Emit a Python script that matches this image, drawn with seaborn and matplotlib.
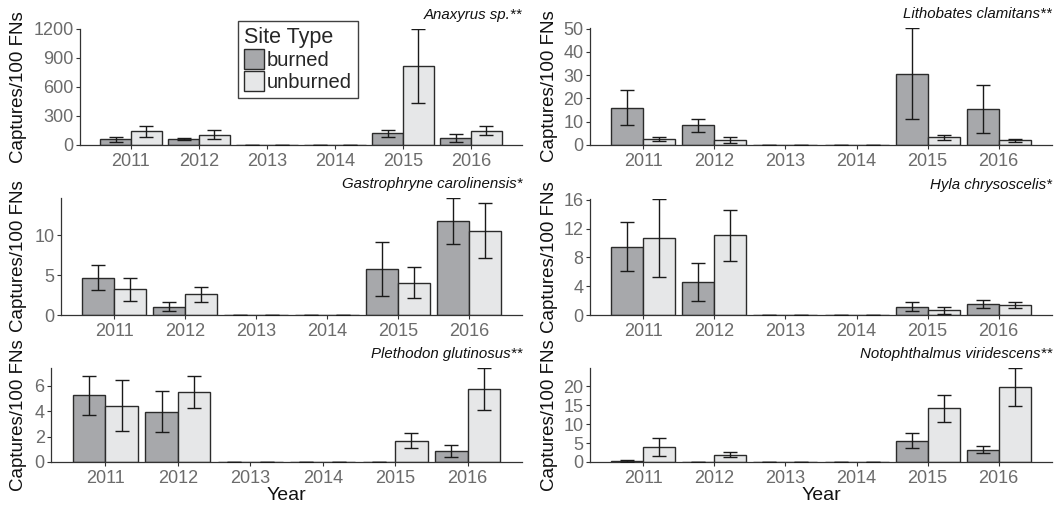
import numpy as np
import pandas as pd
import matplotlib
matplotlib.use("Agg")
import matplotlib.pyplot as plt
from matplotlib.patches import Patch
import seaborn as sns

# ---------------- data ----------------
years = ["2011", "2012", "2013", "2014", "2015", "2016"]
site_types = ["burned", "unburned"]

species = [
    "Anaxyrus sp.**",
    "Lithobates clamitans**",
    "Gastrophryne carolinensis*",
    "Hyla chrysoscelis*",
    "Plethodon glutinosus**",
    "Notophthalmus viridescens**",
]

anax_burned = [60, 62, 0, 0, 120, 75]
anax_burned_se = [24, 14, 0, 0, 38, 40]
anax_unburned = [140, 107, 0, 0, 815, 148]
anax_unburned_se = [55, 45, 0, 0, 385, 49]

lith_burned = [16.0, 8.4, 0, 0, 30.7, 15.4]
lith_burned_se = [7.6, 2.8, 0, 0, 19.6, 10.3]
lith_unburned = [2.6, 2.3, 0, 0, 3.3, 2.1]
lith_unburned_se = [1.0, 1.3, 0, 0, 1.2, 0.65]

gast_burned = [4.66, 1.06, 0, 0, 5.76, 11.82]
gast_burned_se = [1.57, 0.57, 0, 0, 3.43, 2.88]
gast_unburned = [3.26, 2.58, 0, 0, 4.07, 10.59]
gast_unburned_se = [1.44, 0.93, 0, 0, 1.95, 3.45]

hyla_burned = [9.5, 4.56, 0, 0, 1.16, 1.55]
hyla_burned_se = [3.42, 2.63, 0, 0, 0.65, 0.52]
hyla_unburned = [10.7, 11.05, 0, 0, 0.63, 1.42]
hyla_unburned_se = [5.42, 3.5, 0, 0, 0.54, 0.4]

pleth_burned = [5.24, 3.97, 0, 0, 0.02, 0.86]
pleth_burned_se = [1.56, 1.64, 0, 0, 0, 0.44]
pleth_unburned = [4.44, 5.48, 0, 0, 1.69, 5.75]
pleth_unburned_se = [1.98, 1.26, 0, 0, 0.57, 1.65]

noto_burned = [0.27, 0.05, 0, 0, 5.6, 3.2]
noto_burned_se = [0.25, 0.03, 0, 0, 2.0, 0.93]
noto_unburned = [4.0, 1.95, 0, 0, 14.2, 19.8]
noto_unburned_se = [2.4, 0.7, 0, 0, 3.6, 5.0]

y_ticks = [
    [0, 300, 600, 900, 1200],
    [0, 10, 20, 30, 40, 50],
    [0, 5, 10],
    [0, 4, 8, 12, 16],
    [0, 2, 4, 6],
    [0, 5, 10, 15, 20],
]

series = [
    (anax_burned, anax_burned_se, anax_unburned, anax_unburned_se),
    (lith_burned, lith_burned_se, lith_unburned, lith_unburned_se),
    (gast_burned, gast_burned_se, gast_unburned, gast_unburned_se),
    (hyla_burned, hyla_burned_se, hyla_unburned, hyla_unburned_se),
    (pleth_burned, pleth_burned_se, pleth_unburned, pleth_unburned_se),
    (noto_burned, noto_burned_se, noto_unburned, noto_unburned_se),
]

# ---------------- style ----------------
sns.set_theme(style="white")
plt.rcParams["font.family"] = ["Liberation Sans", "DejaVu Sans"]

W, H = 1059, 508
fig = plt.figure(figsize=(W / 100, H / 100), dpi=100)

palette = {"burned": "#a7a8ab", "unburned": "#e6e7e8"}
edge = "#2b2b2b"
tick_col = "#6b6b6b"

# panel rectangles in pixels: (x0, x1, ytop, ybot)
rects = [
    (80, 522, 29, 145),
    (590, 1052, 28, 145),
    (61, 522, 198, 315),
    (590, 1052, 199, 315),
    (51, 522, 368, 462),
    (590, 1052, 368, 462),
]
ylabel_x = [19, 550]

for i, (name, (bm, bse, um, use), ticks, (x0, x1, yt, yb)) in enumerate(
        zip(species, series, y_ticks, rects)):
    ax = fig.add_axes([x0 / W, 1 - yb / H, (x1 - x0) / W, (yb - yt) / H])
    df = pd.DataFrame({
        "Year": years * 2,
        "site": ["burned"] * len(years) + ["unburned"] * len(years),
        "value": list(bm) + list(um),
    })
    sns.barplot(data=df, x="Year", y="value", hue="site", order=years,
                hue_order=site_types, palette=palette, width=0.9,
                errorbar=None, edgecolor=edge, linewidth=1.0, legend=False,
                ax=ax, saturation=1)
    tops = []
    for cont, means, ses in zip(ax.containers, [bm, um], [bse, use]):
        xs = [p.get_x() + p.get_width() / 2 for p in cont.patches]
        ax.errorbar(xs, means, yerr=ses, fmt="none", ecolor="#1a1a1a",
                    elinewidth=1.0, capsize=5, capthick=1.0, zorder=5)
        tops.extend(np.array(means) + np.array(ses))
    ytop = max(max(tops), ticks[-1])
    ax.set_ylim(0, ytop)
    ax.set_xlim(-0.75, 5.75)
    ax.set_yticks(ticks)
    ax.set_yticklabels([str(t) for t in ticks])

    for s in ["top", "right"]:
        ax.spines[s].set_visible(False)
    for s in ["left", "bottom"]:
        ax.spines[s].set_color("#333333")
        ax.spines[s].set_linewidth(0.9)
    ax.tick_params(axis="both", which="both", length=3, width=0.8,
                   color="#333333", labelcolor=tick_col, labelsize=13,
                   pad=1.5, bottom=True, left=True)
    ax.tick_params(axis="x", pad=2.5)
    ax.grid(False)
    ax.set_facecolor("white")

    ax.set_ylabel("Captures/100 FNs", fontsize=13.5, color="#111111")
    lx = ylabel_x[i % 2]
    ax.yaxis.set_label_coords((lx - x0) / (x1 - x0), 0.5)
    ax.yaxis.label.set_verticalalignment("center")

    if i >= 4:
        ax.set_xlabel("Year", fontsize=14, color="#111111", labelpad=0)
    else:
        ax.set_xlabel("")

    ax.text(1.0, 1.0 + 14 / (yb - yt), name, transform=ax.transAxes,
            ha="right", va="center", fontsize=10.8, style="italic",
            color="#111111")

    if i == 0:
        handles = [Patch(facecolor=palette[s], edgecolor=edge, linewidth=1.0)
                   for s in site_types]
        leg = ax.legend(handles, site_types, title="Site Type",
                        loc="upper left",
                        bbox_to_anchor=(238 / W, 1 - 21 / H),
                        bbox_transform=fig.transFigure, borderaxespad=0,
                        fontsize=14.5, title_fontsize=15.5, frameon=True,
                        fancybox=False, handlelength=1.0, handleheight=1.15,
                        handletextpad=0.12, labelspacing=0.05,
                        borderpad=0.3, alignment="left")
        leg.get_frame().set_edgecolor("#111111")
        leg.get_frame().set_linewidth(1.0)

fig.savefig("out.png", dpi=100, facecolor="white")
